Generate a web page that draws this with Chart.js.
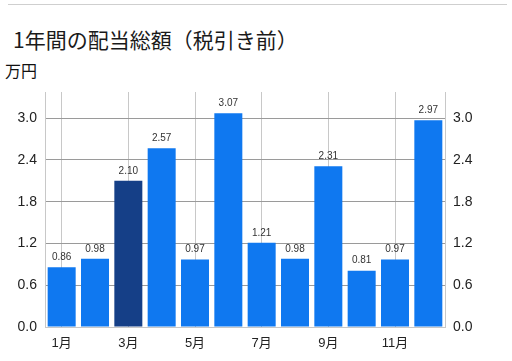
<!DOCTYPE html>
<html><head><meta charset="utf-8">
<script src="https://cdn.jsdelivr.net/npm/chart.js@4/dist/chart.umd.min.js"></script>
<style>
html,body{margin:0;padding:0;background:#fff;width:512px;height:361px;overflow:hidden;font-family:"Noto Sans CJK JP",sans-serif;}
#topline{position:absolute;left:8px;top:4px;width:499px;height:1px;background:#cfcfcf;}
#title{position:absolute;left:13px;top:25px;font-size:21px;color:#1a1a1a;white-space:nowrap;line-height:28px;font-weight:400;}
#unit{position:absolute;left:5px;top:59px;font-size:16px;color:#111;line-height:22px;}
#wrap{position:absolute;left:0;top:0;width:512px;height:361px;}
</style></head>
<body>
<div id="topline"></div>
<div id="title">1年間の配当総額（税引き前）</div>
<div id="unit">万円</div>
<div id="wrap"><canvas id="c" width="512" height="361"></canvas></div>
<script>
const categories = ["1月","2月","3月","4月","5月","6月","7月","8月","9月","10月","11月","12月"];
const values = [0.86,0.98,2.10,2.57,0.97,3.07,1.21,0.98,2.31,0.81,0.97,2.97];
const highlightIndex = [2];
const yTicks = [0,0.6,1.2,1.8,2.4,3.0];

const colors = values.map((v,i)=> highlightIndex.includes(i) ? '#153f87' : '#0f78f0');
const tickFont = {family:"Liberation Sans, 'Noto Sans CJK JP', sans-serif", size:14};

const labelPlugin = {
  id:'valLabels',
  afterDatasetsDraw(chart){
    const ctx = chart.ctx;
    const meta = chart.getDatasetMeta(0);
    ctx.save();
    ctx.font = "10px 'Liberation Sans', sans-serif";
    ctx.fillStyle = '#333';
    ctx.textAlign = 'center';
    ctx.textBaseline = 'bottom';
    meta.data.forEach((bar,i)=>{
      ctx.fillText(values[i].toFixed(2), bar.x, bar.y - 5);
    });
    ctx.restore();
  }
};

new Chart(document.getElementById('c'), {
  type:'bar',
  data:{labels:categories, datasets:[{data:values, backgroundColor:colors, barPercentage:0.84, categoryPercentage:1.0, borderWidth:0}]},
  plugins:[labelPlugin],
  options:{
    responsive:false, animation:false,
    layout:{padding:{top:92,left:0,right:0,bottom:0}},
    plugins:{legend:{display:false}, tooltip:{enabled:false}},
    scales:{
      x:{
        offset:true,
        grid:{offset:false, drawTicks:false, color:(c)=> (c.index%2===0 ? '#c8c8c8' : 'rgba(0,0,0,0)'), lineWidth:1},
        border:{display:true, color:'#c8c8c8'},
        ticks:{autoSkip:false, maxRotation:0, padding:9, color:'#222', font:{family:"Liberation Sans, 'Noto Sans CJK JP', sans-serif", size:13},
          callback:(v,i)=> i%2===0 ? categories[i] : ''},
        afterFit:(s)=>{s.height=34;}
      },
      y:{
        position:'left', min:0, max:Math.max(...values)*1.1,
        grid:{drawTicks:false, color:'#9a9a9a'},
        border:{display:true, color:'#c8c8c8'},
        ticks:{stepSize:0.6, includeBounds:false, padding:8, color:'#222', font:tickFont, callback:(v)=>Number(v).toFixed(1)},
        afterBuildTicks:(s)=>{s.ticks = yTicks.map(v=>({value:v}));},
        afterFit:(s)=>{s.width=45;}
      },
      y2:{
        position:'right', min:0, max:Math.max(...values)*1.1,
        grid:{display:false, drawTicks:false},
        border:{display:true, color:'#c8c8c8'},
        ticks:{stepSize:0.6, includeBounds:false, padding:8, color:'#222', font:tickFont, callback:(v)=>Number(v).toFixed(1)},
        afterBuildTicks:(s)=>{s.ticks = yTicks.map(v=>({value:v}));},
        afterFit:(s)=>{s.width=67;}
      }
    }
  }
});
</script>
</body></html>
